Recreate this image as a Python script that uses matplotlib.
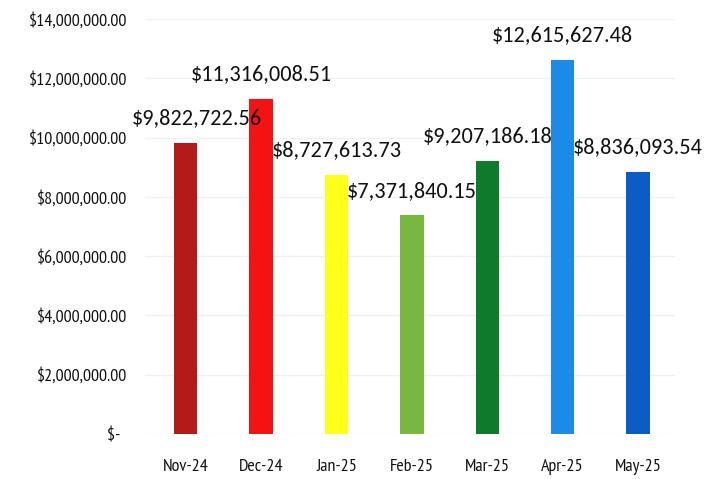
import numpy as np
import matplotlib
matplotlib.use('Agg')
import matplotlib.pyplot as plt
from matplotlib.ticker import FuncFormatter

plt.rcParams['font.family'] = ['PT Sans Narrow', 'DejaVu Sans']

# data
months = ['Nov-24', 'Dec-24', 'Jan-25', 'Feb-25', 'Mar-25', 'Apr-25', 'May-25']
totals = [9822722.56, 11316008.51, 8727613.73, 7371840.15, 9207186.18, 12615627.48, 8836093.54]
colors = ['#B51A1A', '#F51212', '#FFFF1A', '#79B83E', '#0E7A2C', '#1C8AE8', '#0B5CC4']

fig = plt.figure(figsize=(7.05, 4.79), dpi=100)
ax = fig.add_axes([145 / 705, 45 / 479, 530 / 705, 415 / 479])

x = np.arange(len(months))
ax.bar(x, totals, width=0.31, color=colors, zorder=3)

for i, v in enumerate(totals):
    dx = 8 if i == 0 else 0   # first label sits a bit to the right
    ax.annotate('${:,.2f}'.format(v), (x[i], v), xytext=(dx, 13.5),
                textcoords='offset points', ha='center', va='baseline',
                fontsize=16, color='#111111', family=['Carlito', 'DejaVu Sans'])

def money(v, pos):
    if v == 0:
        return '$-  '
    return '${:,.2f}'.format(v)

ax.set_ylim(0, 14000000)
ax.set_yticks(np.arange(0, 14000001, 2000000))
ax.yaxis.set_major_formatter(FuncFormatter(money))
ax.set_xlim(-0.54, 6.49)
ax.set_xticks(x)
ax.set_xticklabels(months)
ax.tick_params(axis='both', length=0, labelsize=13, colors='#111111')
ax.tick_params(axis='x', pad=18)
ax.tick_params(axis='y', pad=13)
ax.grid(axis='y', color='#F0F0F0', linewidth=1, zorder=0)
for s in ax.spines.values():
    s.set_visible(False)

fig.savefig('out.png', dpi=100)
